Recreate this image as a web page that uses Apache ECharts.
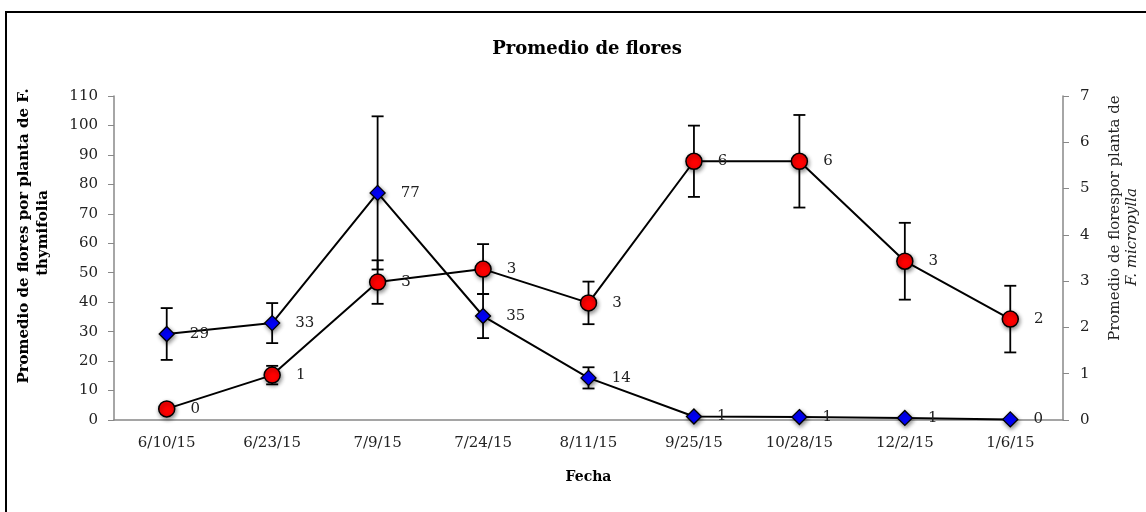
<!DOCTYPE html>
<html>
<head>
<meta charset="utf-8">
<script src="https://cdn.jsdelivr.net/npm/echarts@6/dist/echarts.min.js"></script>
<style>html,body{margin:0;padding:0;background:#fff}#c{width:1146px;height:512px}</style>
</head>
<body>
<div id="c"></div>
<script>
const categories = ['6/10/15','6/23/15','7/9/15','7/24/15','8/11/15','9/25/15','10/28/15','12/2/15','1/6/15'];
const thymValues = [29.2, 32.9, 77.1, 35.3, 14.3, 1.2, 1.0, 0.7, 0.2];
const thymErrors = [8.8, 6.8, 26.0, 7.5, 3.6, 0, 0, 0, 0];
const microValues = [0.24, 0.97, 2.98, 3.26, 2.53, 5.59, 5.59, 3.43, 2.18];
const microErrors = [0, 0.2, 0.47, 0.54, 0.46, 0.77, 1.0, 0.83, 0.72];
const leftTicks = {min: 0, max: 110, interval: 10};
const rightTicks = {min: 0, max: 7, interval: 1};

const FONT = 'DejaVu Serif';
const chart = echarts.init(document.getElementById('c'));

function errRender(params, api) {
  const v = api.value(1), e = api.value(2);
  if (!e) return null;
  const top = api.coord([api.value(0), v + e]);
  const bot = api.coord([api.value(0), v - e]);
  const hw = 6;
  const st = {stroke: '#000', lineWidth: 1.8};
  return {type: 'group', children: [
    {type: 'line', shape: {x1: top[0], y1: top[1], x2: bot[0], y2: bot[1]}, style: st},
    {type: 'line', shape: {x1: top[0]-hw, y1: top[1], x2: top[0]+hw, y2: top[1]}, style: st},
    {type: 'line', shape: {x1: bot[0]-hw, y1: bot[1], x2: bot[0]+hw, y2: bot[1]}, style: st}
  ]};
}

const labelCfg = {show: true, position: 'right', distance: 15, color: '#222', fontFamily: FONT, fontSize: 15,
  formatter: p => String(Math.round(p.value))};
const shadow = {shadowBlur: 4, shadowColor: 'rgba(0,0,0,0.45)', shadowOffsetX: 1, shadowOffsetY: 2};

chart.setOption({
  animation: false,
  backgroundColor: '#fff',
  title: {text: 'Promedio de flores', left: 582, textAlign: 'center', top: 35,
    textStyle: {fontFamily: FONT, fontWeight: 'bold', fontSize: 18, color: '#000'}},
  grid: {left: 114, right: 83, top: 96, bottom: 92},
  xAxis: {type: 'category', data: categories, boundaryGap: true,
    name: 'Fecha', nameLocation: 'middle', nameGap: 50,
    nameTextStyle: {fontFamily: FONT, fontWeight: 'bold', fontSize: 14, color: '#000'},
    axisLine: {lineStyle: {color: '#888', width: 1.5}}, axisTick: {show: false},
    axisLabel: {fontFamily: FONT, fontSize: 15, color: '#222', margin: 16}},
  yAxis: [
    {type: 'value', min: leftTicks.min, max: leftTicks.max, interval: leftTicks.interval, position: 'left',
      axisLine: {show: true, lineStyle: {color: '#888', width: 1.5}},
      axisTick: {show: true, length: 6, lineStyle: {color: '#888'}},
      splitLine: {show: false},
      axisLabel: {fontFamily: FONT, fontSize: 15, color: '#222', margin: 16}},
    {type: 'value', min: rightTicks.min, max: rightTicks.max, interval: rightTicks.interval, position: 'right',
      axisLine: {show: true, lineStyle: {color: '#888', width: 1.5}},
      axisTick: {show: true, length: 6, lineStyle: {color: '#888'}},
      splitLine: {show: false},
      axisLabel: {fontFamily: FONT, fontSize: 15, color: '#222', margin: 17}}
  ],
  graphic: [
    {type: 'rect', shape: {x: 6, y: 12, width: 1300, height: 700}, style: {fill: null, stroke: '#000', lineWidth: 2}, silent: true, z: -1},
    {type: 'text', x: 24, y: 236, rotation: Math.PI/2,
      style: {text: 'Promedio de flores por planta de F.', fontFamily: FONT, fontWeight: 'bold', fontSize: 15, fill: '#000', align: 'center', verticalAlign: 'middle'}},
    {type: 'text', x: 43, y: 233, rotation: Math.PI/2,
      style: {text: 'thymifolia', fontFamily: FONT, fontWeight: 'bold', fontSize: 15, fill: '#000', align: 'center', verticalAlign: 'middle'}},
    {type: 'text', x: 1115, y: 218, rotation: Math.PI/2,
      style: {text: 'Promedio de florespor planta de', fontFamily: FONT, fontSize: 15, fill: '#222', align: 'center', verticalAlign: 'middle'}},
    {type: 'text', x: 1132, y: 237, rotation: Math.PI/2,
      style: {text: 'F. micropylla', fontFamily: FONT, fontStyle: 'italic', fontSize: 15, fill: '#222', align: 'center', verticalAlign: 'middle'}}
  ],
  series: [
    {type: 'custom', yAxisIndex: 0, renderItem: errRender, z: 2,
      data: thymValues.map((v, i) => [i, v, thymErrors[i]]), encode: {x: 0, y: 1}},
    {type: 'custom', yAxisIndex: 1, renderItem: errRender, z: 2,
      data: microValues.map((v, i) => [i, v, microErrors[i]]), encode: {x: 0, y: 1}},
    {type: 'line', name: 'F. thymifolia', yAxisIndex: 0, data: thymValues, z: 3,
      symbol: 'diamond', symbolSize: 15,
      lineStyle: {color: '#000', width: 2},
      itemStyle: Object.assign({color: '#0000ff', borderColor: '#000', borderWidth: 1.3}, shadow),
      label: labelCfg},
    {type: 'line', name: 'F. micropylla', yAxisIndex: 1, data: microValues, z: 4,
      symbol: 'circle', symbolSize: 16,
      lineStyle: {color: '#000', width: 2},
      itemStyle: Object.assign({color: '#ff0000', borderColor: '#000', borderWidth: 1.5}, shadow),
      label: labelCfg}
  ]
});
</script>
</body>
</html>
